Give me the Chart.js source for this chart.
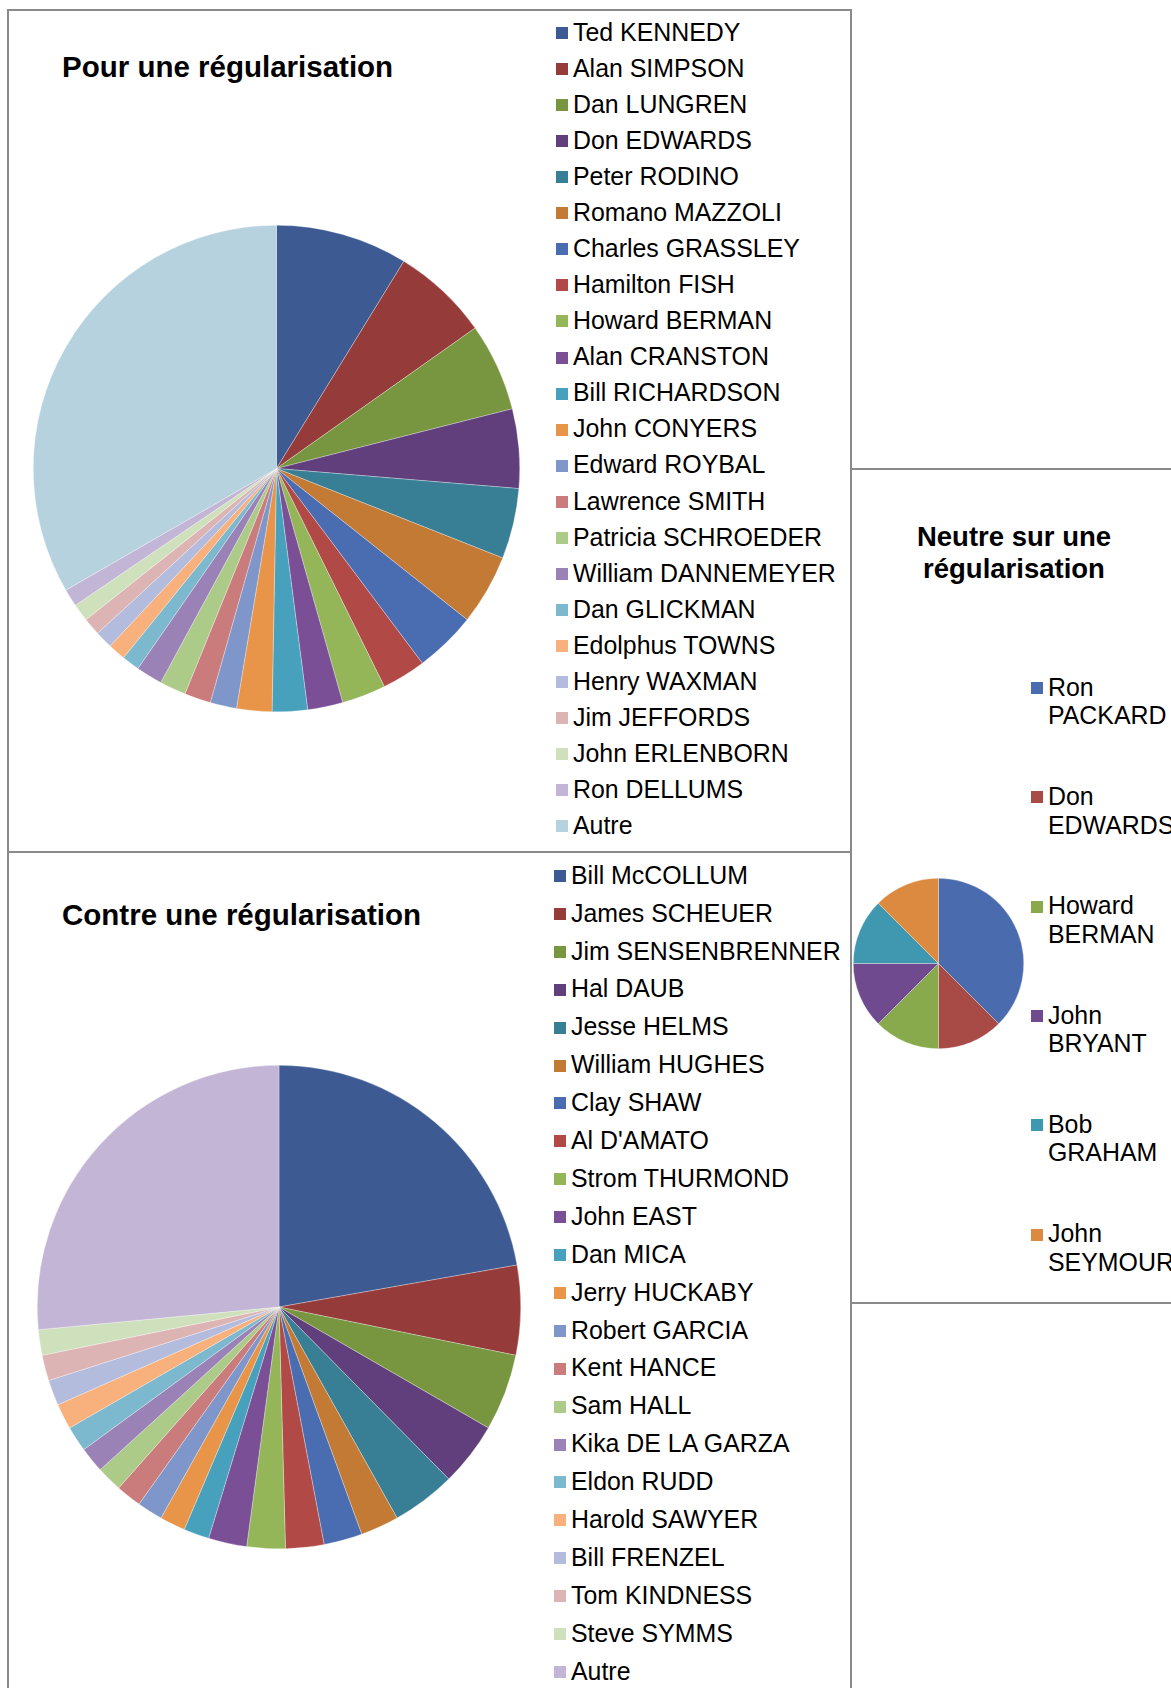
<!DOCTYPE html>
<html>
<head>
<meta charset="utf-8">
<script src="https://cdn.jsdelivr.net/npm/chart.js@4.4.0/dist/chart.umd.min.js"></script>
<style>
  body { margin: 0; background: #fff; width: 1171px; height: 1688px; overflow: hidden; position: relative;
         font-family: "Liberation Sans", Arial, sans-serif; color: #000; }
  .panel { position: absolute; border: 2px solid #8a8a8a; box-sizing: border-box; }
  .title { position: absolute; font-weight: bold; white-space: nowrap; }
  canvas { position: absolute; }
  .lbox { position: absolute; width: 12px; height: 12px; }
  .ltext { position: absolute; white-space: nowrap; font-size: 24.9px; line-height: 28.5px; }
</style>
</head>
<body>
<div class="panel" style="left:7px;top:9px;width:845px;height:844px"></div>
<div class="panel" style="left:7px;top:851px;width:845px;height:900px"></div>
<div class="panel" style="left:850px;top:468px;width:400px;height:836px"></div>

<div class="title" style="left:62px;top:50px;font-size:29.5px">Pour une régularisation</div>
<div class="title" style="left:62px;top:898px;font-size:29.5px">Contre une régularisation</div>
<div class="title" style="left:900px;top:521px;width:228px;text-align:center;font-size:27.5px;line-height:32px">Neutre sur une<br>régularisation</div>

<canvas id="pour" width="487" height="487" style="left:33px;top:225px"></canvas>
<canvas id="contre" width="484" height="484" style="left:37px;top:1065px"></canvas>
<canvas id="neutre" width="171" height="171" style="left:853px;top:878px"></canvas>
<div id="legends"></div>

<script>
// --- data ---
const pourLabels = ["Ted KENNEDY", "Alan SIMPSON", "Dan LUNGREN", "Don EDWARDS", "Peter RODINO",
  "Romano MAZZOLI", "Charles GRASSLEY", "Hamilton FISH", "Howard BERMAN", "Alan CRANSTON",
  "Bill RICHARDSON", "John CONYERS", "Edward ROYBAL", "Lawrence SMITH", "Patricia SCHROEDER",
  "William DANNEMEYER", "Dan GLICKMAN", "Edolphus TOWNS", "Henry WAXMAN", "Jim JEFFORDS",
  "John ERLENBORN", "Ron DELLUMS", "Autre"];
const pourValues = [15, 11, 10, 9, 8, 8, 7, 5, 5, 4, 4, 4, 3, 3, 3, 3, 2, 2, 2, 2, 2, 2, 57];

const contreLabels = ["Bill McCOLLUM", "James SCHEUER", "Jim SENSENBRENNER", "Hal DAUB", "Jesse HELMS",
  "William HUGHES", "Clay SHAW", "Al D'AMATO", "Strom THURMOND", "John EAST", "Dan MICA",
  "Jerry HUCKABY", "Robert GARCIA", "Kent HANCE", "Sam HALL", "Kika DE LA GARZA", "Eldon RUDD",
  "Harold SAWYER", "Bill FRENZEL", "Tom KINDNESS", "Steve SYMMS", "Autre"];
const contreValues = [26, 7, 6, 5, 5, 3, 3, 3, 3, 3, 2, 2, 2, 2, 2, 2, 2, 2, 2, 2, 2, 31];

const neutreLabels = [["Ron", "PACKARD"], ["Don", "EDWARDS"], ["Howard", "BERMAN"],
  ["John", "BRYANT"], ["Bob", "GRAHAM"], ["John", "SEYMOUR"]];
const neutreValues = [3, 1, 1, 1, 1, 1];

// Excel-like palette (dark round, base round, light rounds)
const palette = ["#3d5b92", "#953b3a", "#77963f", "#613f7c", "#387f96", "#c27a35",
  "#4a6cb0", "#b14a47", "#94b658", "#7a4f96", "#48a1bc", "#e8954a",
  "#7f96ca", "#c97c7b", "#adcb88", "#9a81b6", "#7cb8ce", "#f8b07c",
  "#b4bcdd", "#ddb4b4", "#cfe1bc", "#c2b5d5", "#b7d2df"];
const neutrePalette = ["#4a6cae", "#a84a46", "#88aa4c", "#6f4a8f", "#4097b0", "#dc8a3f"];

Chart.defaults.font.family = "'Liberation Sans', Arial, sans-serif";

function makePie(id, labels, values, colors) {
  return new Chart(document.getElementById(id), {
    type: "pie",
    data: {
      labels: labels,
      datasets: [{ data: values, backgroundColor: colors, borderColor: "rgba(255,255,255,0.6)", borderWidth: 0.5 }]
    },
    options: {
      responsive: false,
      animation: false,
      devicePixelRatio: 1,
      layout: { padding: 0 },
      plugins: { legend: { display: false }, tooltip: { enabled: false } }
    }
  });
}

// legend drawn as html from the chart's own legend items
function htmlLegend(chart, boxX, textX, firstY, step, lineH) {
  const host = document.getElementById("legends");
  const items = Chart.overrides.pie.plugins.legend.labels.generateLabels(chart);
  items.forEach((it, i) => {
    const cy = firstY + i * step;
    const box = document.createElement("div");
    box.className = "lbox";
    box.style.left = boxX + "px";
    box.style.top = (cy - 5) + "px";
    box.style.background = it.fillStyle;
    host.appendChild(box);
    const txt = document.createElement("div");
    txt.className = "ltext";
    txt.style.left = textX + "px";
    txt.style.top = (cy - lineH / 2) + "px";
    txt.style.lineHeight = lineH + "px";
    const lines = Array.isArray(it.text) ? it.text : [it.text];
    txt.innerHTML = lines.join("<br>");
    host.appendChild(txt);
  });
}

const pourChart = makePie("pour", pourLabels, pourValues, palette);
const contreChart = makePie("contre", contreLabels, contreValues, palette.slice(0, contreLabels.length));
const neutreChart = makePie("neutre", neutreLabels, neutreValues, neutrePalette);

htmlLegend(pourChart, 556, 573, 32, 36.06, 28.5);
htmlLegend(contreChart, 554, 571, 875, 37.9, 28.5);
htmlLegend(neutreChart, 1031, 1048, 687, 109.3, 28.5);
</script>
</body>
</html>
